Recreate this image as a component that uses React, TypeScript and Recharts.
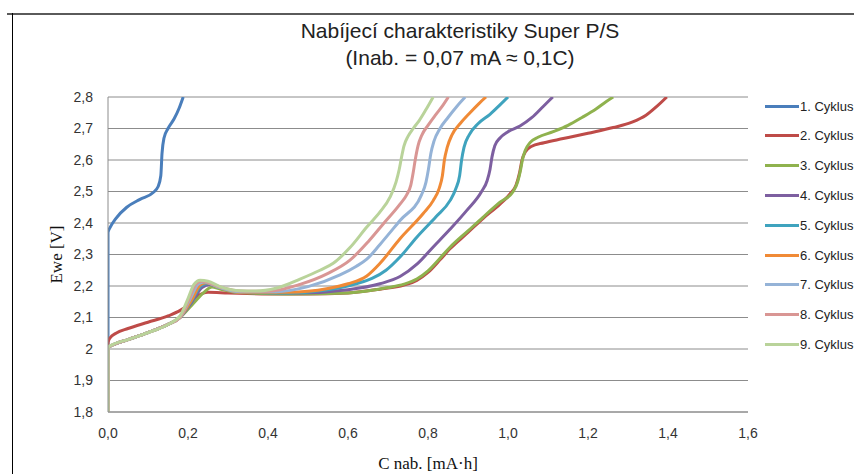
import { LineChart, Line, XAxis, YAxis, CartesianGrid } from "recharts";

// [C nab. (mA·h), Ewe (V)]
const cycle1 = [
  [0, 1.8], [0, 2.37], [0.005, 2.385], [0.02, 2.415], [0.047, 2.45], [0.08, 2.475],
  [0.113, 2.497], [0.125, 2.515], [0.132, 2.55], [0.135, 2.62], [0.14, 2.67], [0.15, 2.7],
  [0.165, 2.73], [0.178, 2.765], [0.188, 2.8],
];
const cycle2 = [
  [0, 1.8], [0, 2.02], [0.005, 2.035], [0.02, 2.05], [0.05, 2.065], [0.1, 2.085],
  [0.15, 2.105], [0.19, 2.13], [0.22, 2.165], [0.25, 2.18], [0.3, 2.178], [0.4, 2.175],
  [0.5, 2.175], [0.6, 2.178], [0.68, 2.19], [0.74, 2.203], [0.772, 2.218], [0.8, 2.243],
  [0.83, 2.283], [0.855, 2.318], [0.9, 2.37], [0.938, 2.415], [0.98, 2.46], [1.005, 2.492],
  [1.02, 2.52], [1.029, 2.56], [1.035, 2.6], [1.043, 2.625], [1.058, 2.643], [1.09, 2.655],
  [1.138, 2.668], [1.2, 2.685], [1.263, 2.703], [1.31, 2.72], [1.345, 2.742], [1.372, 2.77],
  [1.397, 2.8],
];
const cycle3 = [
  [0, 1.8], [0, 2.005], [0.01, 2.012], [0.05, 2.03], [0.1, 2.052], [0.15, 2.078],
  [0.18, 2.1], [0.21, 2.14], [0.24, 2.18], [0.26, 2.197], [0.28, 2.19], [0.32, 2.18],
  [0.45, 2.175], [0.6, 2.178], [0.7, 2.195], [0.74, 2.206], [0.772, 2.222], [0.8, 2.248],
  [0.83, 2.288], [0.855, 2.323], [0.9, 2.375], [0.938, 2.419], [0.98, 2.466], [1.013, 2.5],
  [1.024, 2.53], [1.031, 2.566], [1.036, 2.6], [1.043, 2.63], [1.055, 2.655], [1.075, 2.672],
  [1.113, 2.69], [1.15, 2.71], [1.185, 2.735], [1.22, 2.762], [1.245, 2.785], [1.263, 2.8],
];
const cycle4 = [
  [0, 1.8], [0, 2.005], [0.01, 2.012], [0.05, 2.03], [0.1, 2.052], [0.15, 2.078],
  [0.18, 2.1], [0.21, 2.15], [0.235, 2.195], [0.255, 2.205], [0.28, 2.195], [0.34, 2.18],
  [0.48, 2.178], [0.6, 2.188], [0.68, 2.207], [0.73, 2.23], [0.773, 2.27], [0.813, 2.324],
  [0.855, 2.38], [0.897, 2.44], [0.934, 2.5], [0.948, 2.535], [0.955, 2.57], [0.96, 2.61],
  [0.967, 2.645], [0.98, 2.67], [1.0, 2.69], [1.03, 2.708], [1.06, 2.735], [1.088, 2.77],
  [1.112, 2.8],
];
const cycle5 = [
  [0, 1.8], [0, 2.005], [0.01, 2.012], [0.05, 2.03], [0.1, 2.052], [0.15, 2.078],
  [0.18, 2.1], [0.21, 2.155], [0.232, 2.2], [0.25, 2.208], [0.28, 2.195], [0.33, 2.18],
  [0.45, 2.178], [0.55, 2.188], [0.62, 2.207], [0.66, 2.224], [0.695, 2.25], [0.73, 2.292],
  [0.772, 2.355], [0.82, 2.42], [0.855, 2.471], [0.87, 2.51], [0.879, 2.55], [0.884, 2.6],
  [0.89, 2.64], [0.903, 2.68], [0.925, 2.715], [0.955, 2.745], [0.98, 2.775], [1.0, 2.8],
];
const cycle6 = [
  [0, 1.8], [0, 2.005], [0.01, 2.012], [0.05, 2.03], [0.1, 2.052], [0.15, 2.078],
  [0.18, 2.1], [0.21, 2.158], [0.23, 2.203], [0.245, 2.21], [0.28, 2.195], [0.33, 2.18],
  [0.45, 2.18], [0.55, 2.192], [0.6, 2.207], [0.647, 2.232], [0.68, 2.272], [0.73, 2.35],
  [0.788, 2.43], [0.813, 2.471], [0.828, 2.51], [0.836, 2.55], [0.841, 2.6], [0.848, 2.64],
  [0.86, 2.68], [0.88, 2.715], [0.905, 2.75], [0.928, 2.78], [0.945, 2.8],
];
const cycle7 = [
  [0, 1.8], [0, 2.005], [0.01, 2.012], [0.05, 2.03], [0.1, 2.052], [0.15, 2.078],
  [0.18, 2.1], [0.205, 2.158], [0.225, 2.205], [0.24, 2.213], [0.28, 2.195], [0.33, 2.182],
  [0.42, 2.182], [0.5, 2.198], [0.58, 2.235], [0.62, 2.262], [0.647, 2.285], [0.68, 2.332],
  [0.73, 2.408], [0.784, 2.49], [0.795, 2.53], [0.801, 2.57], [0.807, 2.62], [0.815, 2.66],
  [0.83, 2.7], [0.85, 2.735], [0.872, 2.77], [0.893, 2.8],
];
const cycle8 = [
  [0, 1.8], [0, 2.005], [0.01, 2.012], [0.05, 2.03], [0.1, 2.052], [0.15, 2.078],
  [0.18, 2.1], [0.203, 2.16], [0.22, 2.207], [0.235, 2.215], [0.28, 2.197], [0.33, 2.184],
  [0.4, 2.183], [0.48, 2.205], [0.55, 2.24], [0.605, 2.282], [0.65, 2.34], [0.688, 2.397],
  [0.73, 2.46], [0.747, 2.49], [0.757, 2.52], [0.763, 2.56], [0.768, 2.6], [0.775, 2.645],
  [0.785, 2.68], [0.8, 2.71], [0.82, 2.745], [0.838, 2.775], [0.851, 2.8],
];
const cycle9 = [
  [0, 1.8], [0, 2.005], [0.01, 2.013], [0.05, 2.03], [0.1, 2.052], [0.15, 2.078],
  [0.18, 2.105], [0.2, 2.16], [0.215, 2.205], [0.23, 2.218], [0.25, 2.215], [0.28, 2.198],
  [0.32, 2.186], [0.37, 2.184], [0.42, 2.193], [0.48, 2.222], [0.53, 2.25], [0.563, 2.272],
  [0.605, 2.322], [0.647, 2.387], [0.68, 2.435], [0.705, 2.482], [0.72, 2.53], [0.728, 2.57],
  [0.734, 2.61], [0.74, 2.645], [0.75, 2.675], [0.763, 2.7], [0.778, 2.725], [0.795, 2.76],
  [0.813, 2.8],
];

const cycles = [cycle1, cycle2, cycle3, cycle4, cycle5, cycle6, cycle7, cycle8, cycle9];
const cycleNames = [
  "1. Cyklus", "2. Cyklus", "3. Cyklus", "4. Cyklus", "5. Cyklus",
  "6. Cyklus", "7. Cyklus", "8. Cyklus", "9. Cyklus",
];
const cycleColors = [
  "#4a7ebb", "#be4b48", "#8fb24e", "#7d5fa0", "#3fa3be",
  "#f08a36", "#95b3d7", "#d99694", "#b9d39a",
];
const xTicks = [0, 0.2, 0.4, 0.6, 0.8, 1.0, 1.2, 1.4, 1.6];
const yTicks = [1.8, 1.9, 2.0, 2.1, 2.2, 2.3, 2.4, 2.5, 2.6, 2.7, 2.8];

const uiFont = "'Liberation Sans Narrow', 'Liberation Sans', Arial, sans-serif";
const serifFont = "'Liberation Serif', 'Times New Roman', serif";

const fmtX = (v: number) => v.toFixed(1).replace(".", ",");
const fmtY = (v: number) => {
  const r = Math.round(v * 10) / 10;
  return Number.isInteger(r) ? String(r) : r.toFixed(1).replace(".", ",");
};

export default function App() {
  return (
    <div style={{ position: "absolute", left: 0, top: 0, width: 854, height: 474, background: "#fff", overflow: "hidden" }}>
      {/* frame */}
      <div style={{ position: "absolute", left: 7, top: 13, width: 847, height: 2, background: "#5a5a5a" }} />
      <div style={{ position: "absolute", left: 12, top: 13, width: 1, height: 461, background: "#000" }} />

      <div style={{ position: "absolute", left: 260, width: 400, top: 17, textAlign: "center", fontFamily: uiFont, fontSize: 21, color: "#222", lineHeight: "27px" }}>
        <div>Nabíjecí charakteristiky Super P/S</div>
        <div>(Inab. = 0,07 mA ≈ 0,1C)</div>
      </div>

      <div style={{ position: "absolute", left: 0, top: 0 }}>
        <LineChart width={854} height={474} margin={{ top: 97, right: 106, bottom: 0, left: 40 }}>
          <CartesianGrid vertical={false} stroke="#8c8c8c" strokeWidth={1} />
          <XAxis
            type="number"
            dataKey="x"
            domain={[0, 1.6]}
            ticks={xTicks}
            tickFormatter={fmtX}
            allowDataOverflow
            height={62}
            tickSize={0}
            tickMargin={16}
            axisLine={{ stroke: "#8c8c8c" }}
            tick={{ fill: "#333", fontSize: 14, fontFamily: uiFont }}
            label={{ value: "C nab. [mA·h]", position: "insideBottom", offset: 5, fill: "#111", fontSize: 17, fontFamily: serifFont }}
          />
          <YAxis
            type="number"
            dataKey="y"
            domain={[1.8, 2.8]}
            ticks={yTicks}
            tickFormatter={fmtY}
            allowDataOverflow
            width={68}
            tickSize={0}
            tickMargin={15}
            axisLine={{ stroke: "#8c8c8c" }}
            tick={{ fill: "#333", fontSize: 14, fontFamily: uiFont }}
            label={{ value: "Ewe [V]", angle: -90, position: "insideLeft", offset: 16, fill: "#111", fontSize: 17, fontFamily: serifFont, style: { textAnchor: "middle" } }}
          />
          {cycles.map((c, i) => (
            <Line
              key={cycleNames[i]}
              data={c.map(([x, y]) => ({ x, y }))}
              dataKey="y"
              name={cycleNames[i]}
              type="monotone"
              stroke={cycleColors[i]}
              strokeWidth={3}
              dot={false}
              activeDot={false}
              isAnimationActive={false}
            />
          ))}
        </LineChart>
      </div>

      {/* legend */}
      {cycleNames.map((n, i) => (
        <div key={n} style={{ position: "absolute", left: 765, top: 106 + i * 29.8 - 9, height: 18, display: "flex", alignItems: "center", whiteSpace: "nowrap" }}>
          <div style={{ width: 34, height: 3, background: cycleColors[i] }} />
          <span style={{ fontFamily: uiFont, fontSize: 13, color: "#222", marginLeft: 1 }}>{n}</span>
        </div>
      ))}
    </div>
  );
}
